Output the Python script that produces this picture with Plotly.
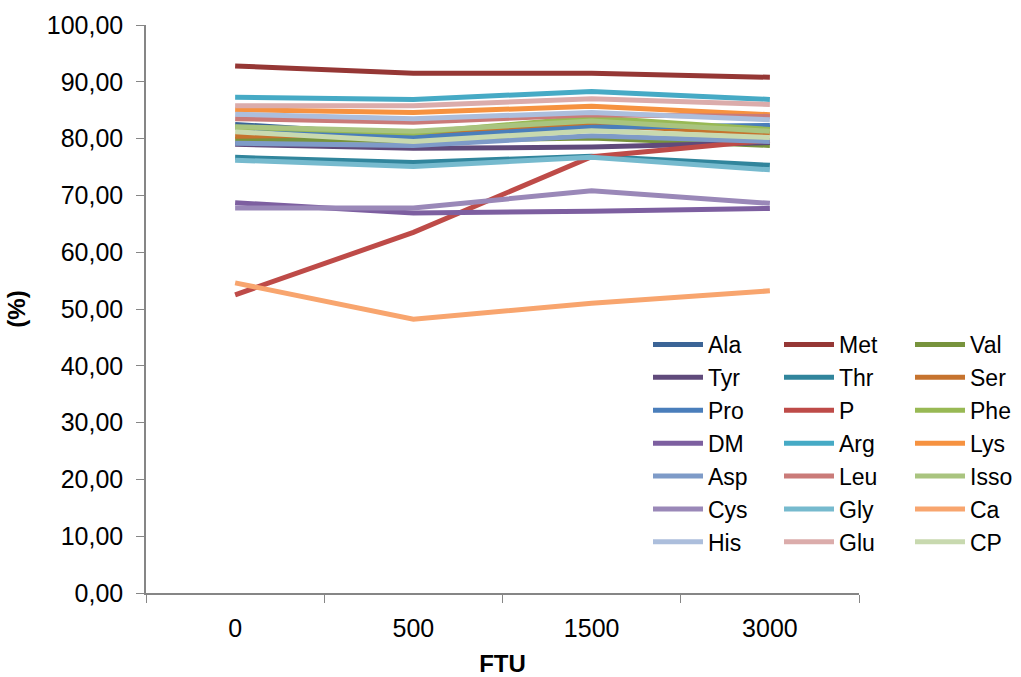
import plotly.graph_objects as go

# Phytase dose levels (FTU)
ftu = ["0", "500", "1500", "3000"]

# Digestibility (%) per nutrient, one list per series
ala = [82.5, 80.5, 82.2, 82.0]
met = [92.8, 91.5, 91.5, 90.8]
val = [79.9, 79.6, 80.1, 78.8]
tyr = [79.0, 78.3, 78.5, 79.3]
thr = [76.7, 75.8, 76.9, 75.3]
ser = [80.4, 80.8, 82.4, 80.9]
pro = [82.0, 80.2, 82.0, 82.3]
p = [52.5, 63.5, 76.8, 79.7]
phe = [82.0, 81.0, 83.7, 81.6]
dm = [68.7, 66.9, 67.2, 67.7]
arg = [87.3, 86.9, 88.3, 86.9]
lys = [85.1, 84.6, 85.7, 84.2]
asp = [79.2, 78.8, 80.5, 79.5]
leu = [83.5, 82.9, 84.2, 83.9]
isso = [82.1, 81.3, 83.1, 81.3]
cys = [67.8, 67.8, 70.8, 68.6]
gly = [76.2, 75.1, 76.7, 74.5]
ca = [54.6, 48.2, 51.0, 53.2]
his = [84.3, 83.5, 84.6, 83.3]
glu = [85.8, 85.8, 87.0, 86.0]
cp = [81.2, 79.5, 81.4, 80.2]

series = [
    ("Ala", ala, "#3B6496"), ("Met", met, "#953735"), ("Val", val, "#77933C"),
    ("Tyr", tyr, "#604A7B"), ("Thr", thr, "#31859C"), ("Ser", ser, "#C6732E"),
    ("Pro", pro, "#4A7EBB"), ("P", p, "#BE4B48"), ("Phe", phe, "#98B954"),
    ("DM", dm, "#7D5FA0"), ("Arg", arg, "#46AAC5"), ("Lys", lys, "#F69240"),
    ("Asp", asp, "#7E9BC8"), ("Leu", leu, "#CA7B79"), ("Isso", isso, "#A9C47F"),
    ("Cys", cys, "#9A88B8"), ("Gly", gly, "#76BACE"), ("Ca", ca, "#F8A56E"),
    ("His", his, "#ACBEDC"), ("Glu", glu, "#DBACAB"), ("CP", cp, "#C8D9AF"),
]

legend_ids = ["legend", "legend2", "legend3"]

fig = go.Figure()
for i, (name, vals, color) in enumerate(series):
    fig.add_trace(go.Scatter(
        x=ftu, y=vals, name=name, mode="lines",
        line=dict(color=color, width=5),
        legend=legend_ids[i % 3], legendgroup=name,
    ))

font_family = "Liberation Sans, Arial, sans-serif"

# plot area spans 146..859 px horizontally, 25..593 px vertically
plot_l, plot_w, plot_t, plot_h = 146, 713, 25, 568
col_x = [648, 779, 910]
legend_common = dict(
    xref="paper", yref="paper", xanchor="left", yanchor="top",
    y=(plot_t + plot_h - 323) / plot_h, orientation="v",
    bgcolor="rgba(0,0,0,0)",
    font=dict(family=font_family, size=23, color="#000000"),
    itemwidth=50, tracegroupgap=4, traceorder="normal",
)
legends = {}
for lid, cx in zip(legend_ids, col_x):
    legends[lid] = dict(x=(cx - plot_l) / plot_w, **legend_common)

axis_color = "#868686"
fig.update_layout(
    width=1021, height=677,
    margin=dict(l=plot_l, r=1021 - plot_l - plot_w, t=plot_t, b=677 - plot_t - plot_h,
                autoexpand=False),
    paper_bgcolor="white", plot_bgcolor="white",
    separators=",.",
    font=dict(family=font_family, size=23, color="#000000"),
    showlegend=True,
    **legends,
    xaxis=dict(
        type="category", range=[-0.5, 3.5],
        showline=True, linecolor=axis_color, linewidth=1.5,
        ticks="outside", tickson="boundaries", ticklen=8, tickcolor=axis_color,
        showgrid=False, zeroline=False,
        tickfont=dict(size=25), ticklabelstandoff=12,
        title=dict(text="<b>FTU</b>", font=dict(size=24), standoff=14),
    ),
    yaxis=dict(
        range=[0, 100], dtick=10, tickformat=".2f",
        showline=True, linecolor=axis_color, linewidth=1.5,
        ticks="outside", ticklen=8, tickcolor=axis_color,
        showgrid=False, zeroline=False,
        tickfont=dict(size=25), ticklabelstandoff=8,
        title=dict(text="<b>(%)</b>", font=dict(size=24), standoff=14),
    ),
)

fig.write_html("out.html")
